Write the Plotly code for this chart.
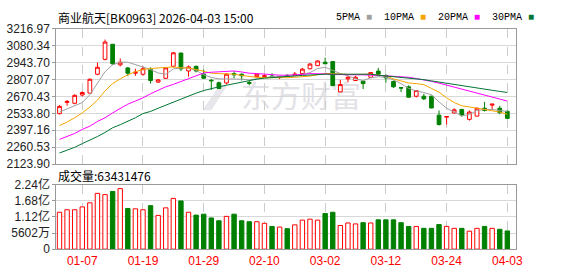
import plotly.graph_objects as go

dates = ["2025-12-31",
         "2026-01-05", "2026-01-06", "2026-01-07", "2026-01-08", "2026-01-09",
         "2026-01-12", "2026-01-13", "2026-01-14", "2026-01-15", "2026-01-16",
         "2026-01-19", "2026-01-20", "2026-01-21", "2026-01-22", "2026-01-23",
         "2026-01-26", "2026-01-27", "2026-01-28", "2026-01-29", "2026-01-30",
         "2026-02-02", "2026-02-03", "2026-02-04", "2026-02-05", "2026-02-06",
         "2026-02-09", "2026-02-10", "2026-02-11", "2026-02-12", "2026-02-13",
         "2026-02-24", "2026-02-25", "2026-02-26", "2026-02-27",
         "2026-03-02", "2026-03-03", "2026-03-04", "2026-03-05", "2026-03-06",
         "2026-03-09", "2026-03-10", "2026-03-11", "2026-03-12", "2026-03-13",
         "2026-03-16", "2026-03-17", "2026-03-18", "2026-03-19", "2026-03-20",
         "2026-03-23", "2026-03-24", "2026-03-25", "2026-03-26", "2026-03-27",
         "2026-03-30", "2026-03-31", "2026-04-01", "2026-04-02", "2026-04-03"]

open_ = [2531, 2622, 2615, 2682, 2697, 2850, 2970, 3092, 2926, 2901,
         2858, 2850, 2888, 2786, 2817, 2914, 3021, 2876, 2914, 2850,
         2801, 2781, 2779, 2855, 2850, 2782, 2830, 2830, 2835, 2826,
         2840, 2842, 2855, 2894, 2919, 2947, 2952, 2707, 2812, 2799,
         2794, 2825, 2875, 2837, 2791, 2742, 2748, 2672, 2672, 2672,
         2519, 2503, 2537, 2565, 2485, 2511, 2575, 2600, 2575, 2550]
high = [2600, 2641, 2687, 2710, 2816, 2944, 3130, 3092, 2978, 2908,
        2894, 2914, 2906, 2812, 2906, 3028, 3021, 2921, 2919, 2888,
        2812, 2791, 2858, 2875, 2855, 2795, 2855, 2850, 2858, 2837,
        2850, 2868, 2901, 2940, 2960, 2985, 2952, 2804, 2837, 2837,
        2799, 2868, 2901, 2850, 2799, 2742, 2760, 2718, 2692, 2677,
        2557, 2508, 2575, 2570, 2557, 2580, 2626, 2608, 2595, 2557]
low = [2525, 2595, 2607, 2670, 2697, 2842, 2962, 2926, 2913, 2835,
       2837, 2837, 2774, 2782, 2812, 2905, 2875, 2830, 2865, 2812,
       2723, 2730, 2768, 2817, 2799, 2760, 2825, 2825, 2820, 2810,
       2825, 2837, 2850, 2889, 2919, 2932, 2753, 2704, 2784, 2794,
       2730, 2820, 2837, 2781, 2740, 2705, 2659, 2662, 2641, 2575,
       2435, 2443, 2532, 2506, 2475, 2511, 2549, 2562, 2526, 2488]
close = [2590, 2630, 2679, 2702, 2809, 2906, 3110, 2934, 2947, 2858,
         2866, 2894, 2799, 2804, 2901, 3023, 2893, 2909, 2876, 2817,
         2797, 2735, 2850, 2845, 2837, 2776, 2850, 2837, 2832, 2830,
         2836, 2850, 2891, 2932, 2957, 2934, 2758, 2766, 2825, 2825,
         2774, 2863, 2850, 2820, 2748, 2738, 2664, 2718, 2651, 2577,
         2443, 2508, 2562, 2519, 2544, 2575, 2557, 2608, 2539, 2493]

ma5 = [2544, 2570, 2595, 2621, 2684, 2774, 2870, 2926, 2947, 2947,
       2926, 2906, 2888, 2860, 2850, 2893, 2901, 2901, 2881, 2845,
       2824, 2812, 2812, 2812, 2810, 2804, 2812, 2825, 2830, 2830,
       2832, 2837, 2850, 2863, 2896, 2906, 2881, 2855, 2837, 2812,
       2799, 2820, 2830, 2825, 2804, 2774, 2735, 2715, 2702, 2684,
       2626, 2575, 2544, 2514, 2524, 2557, 2565, 2565, 2557, 2549]
ma10 = [2435, 2463, 2498, 2537, 2585, 2640, 2715, 2774, 2812, 2845,
        2870, 2888, 2896, 2901, 2901, 2909, 2901, 2901, 2888, 2870,
        2858, 2855, 2855, 2850, 2840, 2830, 2825, 2822, 2820, 2820,
        2822, 2825, 2828, 2835, 2845, 2855, 2855, 2850, 2848, 2848,
        2850, 2850, 2842, 2837, 2812, 2794, 2779, 2774, 2766, 2735,
        2705, 2659, 2621, 2595, 2582, 2575, 2565, 2557, 2544, 2526]
ma20 = [2323, 2345, 2371, 2404, 2430, 2468, 2498, 2537, 2570, 2608,
        2633, 2659, 2692, 2723, 2748, 2768, 2791, 2812, 2837, 2860,
        2866, 2868, 2874, 2876, 2868, 2858, 2855, 2850, 2845, 2842,
        2842, 2842, 2848, 2855, 2855, 2852, 2848, 2845, 2845, 2845,
        2845, 2845, 2840, 2837, 2835, 2832, 2825, 2815, 2805, 2792,
        2778, 2762, 2745, 2728, 2710, 2695, 2680, 2665, 2648, 2633]
ma30 = [2213, 2233, 2259, 2289, 2315, 2346, 2379, 2417, 2442, 2468,
        2498, 2532, 2549, 2575, 2600, 2626, 2651, 2677, 2697, 2718,
        2735, 2748, 2761, 2774, 2786, 2800, 2810, 2818, 2824, 2828,
        2832, 2836, 2840, 2845, 2848, 2850, 2850, 2850, 2850, 2850,
        2850, 2850, 2842, 2837, 2832, 2826, 2822, 2816, 2806, 2796,
        2786, 2775, 2767, 2759, 2750, 2740, 2730, 2720, 2711, 2702]

volume = [128.5, 137.3, 137.3, 147.2, 161.5, 194.4, 190.0, 201.0, 210.9, 141.7,
          140.6, 137.3, 151.6, 117.6, 143.9, 176.9, 168.0, 128.5, 118.6, 121.9,
          108.7, 98.9, 114.2, 121.9, 98.9, 95.6, 95.6, 90.1, 79.1, 76.9,
          71.4, 84.6, 101.1, 104.4, 101.1, 124.1, 128.5, 82.4, 91.2, 87.9,
          92.3, 91.2, 102.1, 102.1, 102.1, 92.3, 79.1, 79.1, 72.5, 72.5,
          85.7, 79.1, 72.5, 72.5, 62.6, 72.5, 79.1, 72.5, 69.2, 63.431476]
volume = [v * 1e6 for v in volume]

price_ticks = [2123.90, 2260.53, 2397.16, 2533.80, 2670.43, 2807.07, 2943.70, 3080.34, 3216.97]
vol_ticks = [0, 56.02e6, 112.04e6, 168.06e6, 224.08e6]
vol_tick_text = ["0", "5602万", "1.12亿", "1.68亿", "2.24亿"]
date_ticks = ["2026-01-07", "2026-01-19", "2026-01-29", "2026-02-10",
              "2026-03-02", "2026-03-12", "2026-03-24", "2026-04-03"]
date_tick_text = [d[5:] for d in date_ticks]

RED = "#ff0000"
GREEN = "#008000"
W, H = 578, 276

fig = go.Figure()

fig.add_trace(go.Candlestick(
    x=dates, open=open_, high=high, low=low, close=close,
    increasing=dict(line=dict(color=RED, width=1), fillcolor="#ffffff"),
    decreasing=dict(line=dict(color=GREEN, width=1), fillcolor=GREEN),
    whiskerwidth=0, xaxis="x", yaxis="y", showlegend=False, hoverinfo="skip"))

for vals, col in [(ma5, "#a0a0a0"), (ma10, "#f5a500"), (ma20, "#ff00ff"), (ma30, "#007535")]:
    fig.add_trace(go.Scatter(x=dates, y=vals, mode="lines",
                             line=dict(color=col, width=1), xaxis="x", yaxis="y",
                             showlegend=False, hoverinfo="skip"))

up = [c >= o for o, c in zip(open_, close)]
fig.add_trace(go.Bar(
    x=dates, y=volume, width=0.58,
    marker=dict(color=["#ffffff" if u else GREEN for u in up],
                line=dict(color=[RED if u else GREEN for u in up], width=1)),
    xaxis="x2", yaxis="y2", showlegend=False, hoverinfo="skip"))

x0, x1 = 57 / W, 522 / W
pt, pb = 22, 165
vt, vb = 187, 255

xaxis_common = dict(
    type="category", range=[-0.42, 60.1], showgrid=True, gridcolor="#cccccc",
    griddash="dash", gridwidth=1, tickvals=date_ticks, ticktext=date_tick_text,
    showline=True, linecolor="#999999", linewidth=1, mirror=True, zeroline=False,
    rangeslider=dict(visible=False), ticks="", fixedrange=True)

fig.update_layout(
    width=W, height=H, margin=dict(l=0, r=0, t=0, b=0),
    paper_bgcolor="#ffffff", plot_bgcolor="rgba(0,0,0,0)", bargap=0.4,
    xaxis=dict(domain=[x0, x1], anchor="y", showticklabels=False, **xaxis_common),
    xaxis2=dict(domain=[x0, x1], anchor="y2", showticklabels=True,
                tickfont=dict(family="Liberation Sans, Arial", size=12, color=RED),
                **xaxis_common),
    yaxis=dict(domain=[1 - pb / H, 1 - pt / H], range=[price_ticks[0], price_ticks[-1]],
               tickvals=price_ticks, ticktext=["%.2f" % v for v in price_ticks],
               tickfont=dict(family="Liberation Sans, Arial", size=12, color="#222222"),
               showgrid=True, gridcolor="#d8d8d8", gridwidth=1,
               showline=True, linecolor="#999999", mirror=True, zeroline=False,
               ticks="outside", ticklen=3, tickcolor="#999999"),
    yaxis2=dict(domain=[1 - vb / H, 1 - vt / H], range=[0, vol_ticks[-1]],
                tickvals=vol_ticks, ticktext=vol_tick_text,
                tickfont=dict(family="Liberation Sans, Noto Sans CJK SC", size=12, color="#222222"),
                showgrid=True, gridcolor="#d8d8d8", gridwidth=1,
                showline=True, linecolor="#999999", mirror=True, zeroline=False,
                ticks="outside", ticklen=3, tickcolor="#999999"),
)

# watermark behind the data
fig.add_shape(type="rect", xref="paper", yref="paper",
              x0=238 / W, x1=390 / W, y0=1 - 112 / H, y1=1 - 80 / H,
              line=dict(width=0), fillcolor="rgba(0,0,0,0)", layer="below",
              label=dict(text="东方财富", textposition="middle left",
                         font=dict(family="Noto Sans CJK SC", size=30, color="#e2e2e6")))
fig.add_shape(type="path", xref="paper", yref="paper", layer="below",
              path="M %f %f L %f %f L %f %f L %f %f Z" % (
                  205 / W, 1 - 108 / H, 222 / W, 1 - 82 / H, 230 / W, 1 - 82 / H, 214 / W, 1 - 108 / H),
              line=dict(width=0), fillcolor="#e8e8ec")

legend_txt = ("5PMA <span style='color:#a0a0a0'>■</span>  10PMA <span style='color:#f5a500'>■</span>  "
              "20PMA <span style='color:#ff00ff'>■</span>  30PMA <span style='color:#007535'>■</span>")
annotations = [
    dict(x=57 / W, y=1 - 10 / H, text="商业航天[BK0963] 2026-04-03 15:00",
         font=dict(family="Noto Sans CJK SC", size=12, color="#000000")),
    dict(x=338 / W, y=1 - 10 / H, text=legend_txt,
         font=dict(family="Liberation Mono", size=10, color="#000000")),
    dict(x=57 / W, y=1 - 177 / H, text="成交量:63431476",
         font=dict(family="Noto Sans CJK SC", size=12, color="#000000")),
]
for a in annotations:
    a.update(xref="paper", yref="paper", xanchor="left", yanchor="middle", showarrow=False)
fig.update_layout(annotations=annotations)

fig.write_html("out.html")
